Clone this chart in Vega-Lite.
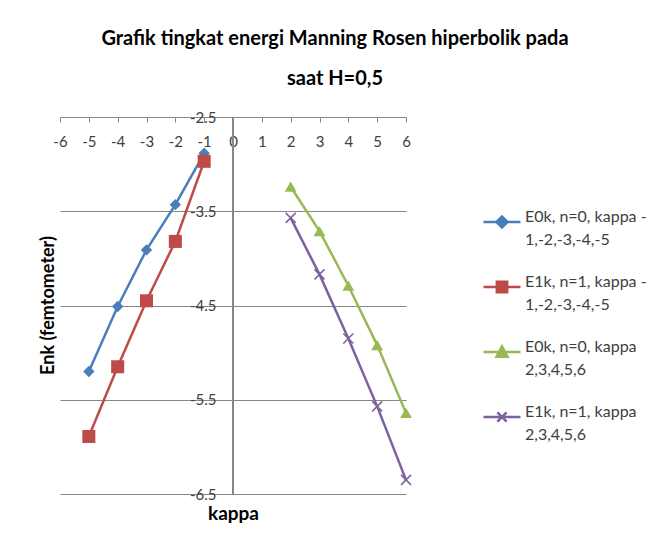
{
  "$schema": "https://vega.github.io/schema/vega-lite/v6.json",
  "autosize": "none",
  "width": 346,
  "height": 377,
  "padding": {"left": 60, "top": 117, "right": 252, "bottom": 55},
  "background": "white",
  "config": {
    "font": "Lato",
    "view": {"stroke": null},
    "style": {"guide-label": {"lineHeight": 23}},
    "axis": {"labelFont": "Lato", "titleFont": "Lato"},
    "legend": {
      "labelFont": "Lato",
      "labelFontSize": 16,
      "labelColor": "#404040",
      "labelOffset": 3,
      "labelLimit": 200,
      "labelBaseline": "alphabetic",
      "symbolSize": 1369,
      "symbolStrokeWidth": 2.5
    }
  },
  "title": {
    "text": ["Grafik tingkat energi Manning Rosen hiperbolik pada", "saat H=0,5"],
    "font": "Lato",
    "fontSize": 20,
    "fontWeight": "bold",
    "color": "#000000",
    "lineHeight": 40,
    "anchor": "middle",
    "dx": 102,
    "offset": 21
  },
  "data": {
    "values": [
      {"series": "E0k, n=0, kappa -1,-2,-3,-4,-5", "kappa": -5, "E": -5.20},
      {"series": "E0k, n=0, kappa -1,-2,-3,-4,-5", "kappa": -4, "E": -4.51},
      {"series": "E0k, n=0, kappa -1,-2,-3,-4,-5", "kappa": -3, "E": -3.91},
      {"series": "E0k, n=0, kappa -1,-2,-3,-4,-5", "kappa": -2, "E": -3.43},
      {"series": "E0k, n=0, kappa -1,-2,-3,-4,-5", "kappa": -1, "E": -2.885},
      {"series": "E1k, n=1, kappa -1,-2,-3,-4,-5", "kappa": -5, "E": -5.89},
      {"series": "E1k, n=1, kappa -1,-2,-3,-4,-5", "kappa": -4, "E": -5.15},
      {"series": "E1k, n=1, kappa -1,-2,-3,-4,-5", "kappa": -3, "E": -4.45},
      {"series": "E1k, n=1, kappa -1,-2,-3,-4,-5", "kappa": -2, "E": -3.82},
      {"series": "E1k, n=1, kappa -1,-2,-3,-4,-5", "kappa": -1, "E": -2.97},
      {"series": "E0k, n=0, kappa 2,3,4,5,6", "kappa": 2, "E": -3.24},
      {"series": "E0k, n=0, kappa 2,3,4,5,6", "kappa": 3, "E": -3.71},
      {"series": "E0k, n=0, kappa 2,3,4,5,6", "kappa": 4, "E": -4.29},
      {"series": "E0k, n=0, kappa 2,3,4,5,6", "kappa": 5, "E": -4.92},
      {"series": "E0k, n=0, kappa 2,3,4,5,6", "kappa": 6, "E": -5.64},
      {"series": "E1k, n=1, kappa 2,3,4,5,6", "kappa": 2, "E": -3.57},
      {"series": "E1k, n=1, kappa 2,3,4,5,6", "kappa": 3, "E": -4.17},
      {"series": "E1k, n=1, kappa 2,3,4,5,6", "kappa": 4, "E": -4.85},
      {"series": "E1k, n=1, kappa 2,3,4,5,6", "kappa": 5, "E": -5.57},
      {"series": "E1k, n=1, kappa 2,3,4,5,6", "kappa": 6, "E": -6.35}
    ]
  },
  "encoding": {
    "x": {
      "field": "kappa",
      "type": "quantitative",
      "scale": {"domain": [-6, 6], "nice": false, "zero": false},
      "axis": {
        "orient": "top",
        "values": [-6, -5, -4, -3, -2, -1, 0, 1, 2, 3, 4, 5, 6],
        "labelExpr": "datum.value < 0 ? '-' + format(-datum.value, 'd') : format(datum.value, 'd')",
        "grid": false,
        "domainColor": "#868686",
        "tickColor": "#868686",
        "tickSize": -5,
        "labelPadding": -27,
        "labelFontSize": 15,
        "labelColor": "#404040",
        "labelFlush": false,
        "title": "kappa",
        "titleFontSize": 19,
        "titleFontWeight": "bold",
        "titleColor": "#000000",
        "titleX": 173,
        "titleY": 396,
        "titleBaseline": "middle",
        "titleAnchor": "middle"
      }
    },
    "y": {
      "field": "E",
      "type": "quantitative",
      "scale": {"domain": [-6.5, -2.5], "nice": false, "zero": false},
      "axis": {
        "orient": "left",
        "values": [-2.5, -3.5, -4.5, -5.5, -6.5],
        "labelExpr": "'-' + format(-datum.value, '.1f')",
        "grid": true,
        "gridColor": "#868686",
        "gridOpacity": 1,
        "domain": false,
        "ticks": false,
        "labelPadding": -156,
        "labelFontSize": 15,
        "labelColor": "#404040",
        "labelFlush": false,
        "title": "Enk (femtometer)",
        "titleFontSize": 18,
        "titleFontWeight": "bold",
        "titleColor": "#000000",
        "titleX": -12,
        "titleY": 188,
        "titleAngle": -90,
        "titleBaseline": "middle",
        "titleAnchor": "middle"
      }
    }
  },
  "layer": [
    {
      "mark": {"type": "rule", "color": "#868686", "strokeWidth": 1},
      "encoding": {"x": {"datum": 0}, "y": {"value": 0}, "y2": {"value": 377}}
    },
    {
      "mark": {"type": "line", "strokeWidth": 2.5},
      "encoding": {
        "color": {
          "field": "series",
          "type": "nominal",
          "sort": null,
          "scale": {
            "domain": ["E0k, n=0, kappa -1,-2,-3,-4,-5", "E1k, n=1, kappa -1,-2,-3,-4,-5", "E0k, n=0, kappa 2,3,4,5,6", "E1k, n=1, kappa 2,3,4,5,6"],
            "range": ["#4A7EBB", "#BE4B48", "#98B954", "#7D60A0"]
          }
        }
      }
    },
    {
      "transform": [{"filter": "datum.series == 'E0k, n=0, kappa -1,-2,-3,-4,-5'"}],
      "mark": {"type": "point", "shape": "diamond", "filled": true, "size": 130, "opacity": 1, "color": "#4A7EBB"}
    },
    {
      "transform": [{"filter": "datum.series == 'E1k, n=1, kappa -1,-2,-3,-4,-5'"}],
      "mark": {"type": "point", "shape": "square", "filled": true, "size": 170, "opacity": 1, "color": "#BE4B48"}
    },
    {
      "transform": [{"filter": "datum.series == 'E0k, n=0, kappa 2,3,4,5,6'"}],
      "mark": {"type": "point", "shape": "triangle-up", "filled": true, "size": 140, "opacity": 1, "color": "#98B954"}
    },
    {
      "transform": [{"filter": "datum.series == 'E1k, n=1, kappa 2,3,4,5,6'"}],
      "mark": {"type": "point", "shape": "M-1,-1L1,1M-1,1L1,-1", "filled": false, "size": 100, "strokeWidth": 1.5, "opacity": 1, "color": "#7D60A0"}
    },
    {
      "transform": [{"filter": "false"}],
      "mark": {"type": "point", "filled": true, "strokeWidth": 2.5, "opacity": 1},
      "encoding": {
        "color": {
          "field": "series",
          "type": "nominal",
          "sort": null,
          "legend": {
            "title": null,
            "orient": "none",
            "legendX": 422,
            "legendY": 85,
            "padding": 0,
            "rowPadding": 19,
            "labelExpr": "split(replace(replace(datum.label, 'kappa -', 'kappa -|'), 'kappa 2', 'kappa|2'), '|')"
          }
        },
        "stroke": {
          "field": "series",
          "type": "nominal",
          "sort": null,
          "scale": {
            "domain": ["E0k, n=0, kappa -1,-2,-3,-4,-5", "E1k, n=1, kappa -1,-2,-3,-4,-5", "E0k, n=0, kappa 2,3,4,5,6", "E1k, n=1, kappa 2,3,4,5,6"],
            "range": ["#4A7EBB", "#BE4B48", "#98B954", "#7D60A0"]
          },
          "legend": {"title": null}
        },
        "shape": {
          "field": "series",
          "type": "nominal",
          "sort": null,
          "scale": {
            "domain": ["E0k, n=0, kappa -1,-2,-3,-4,-5", "E1k, n=1, kappa -1,-2,-3,-4,-5", "E0k, n=0, kappa 2,3,4,5,6", "E1k, n=1, kappa 2,3,4,5,6"],
            "range": [
              "M-1,0H1M-0.3,0L0,-0.3L0.3,0L0,0.3Z",
              "M-1,0H1M-0.28,-0.28H0.28V0.28H-0.28Z",
              "M-1,0H1M-0.3,0.26L0,-0.3L0.3,0.26Z",
              "M-1,0H1M-0.25,-0.25L0.25,0.25M-0.25,0.25L0.25,-0.25"
            ]
          },
          "legend": {"title": null}
        }
      }
    }
  ]
}
